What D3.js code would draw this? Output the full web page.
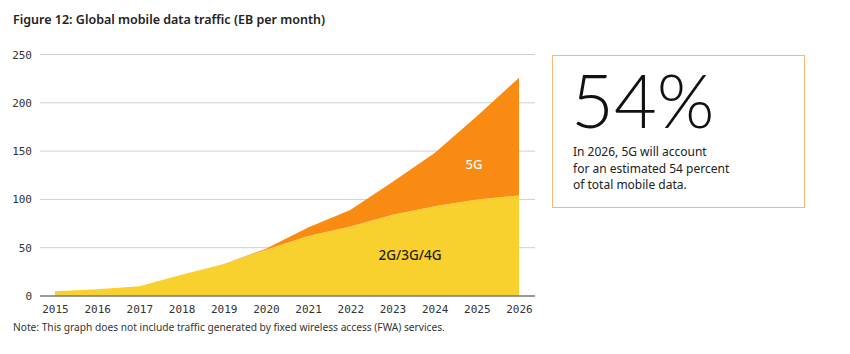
<!DOCTYPE html>
<html>
<head>
<meta charset="utf-8">
<script src="https://cdn.jsdelivr.net/npm/d3@7"></script>
<style>
  body { margin: 0; background: #fff; font-family: 'Noto Sans', Lato, sans-serif; }
  svg { display: block; }
</style>
</head>
<body>
<div id="chart"></div>
<script>
const years = [2015, 2016, 2017, 2018, 2019, 2020, 2021, 2022, 2023, 2024, 2025, 2026];
const legacy = [5, 7, 10, 22, 33, 48, 62, 72, 84, 93, 100, 104];   // 2G/3G/4G
const fiveG  = [0, 0, 0, 0, 0, 1, 9, 17, 34, 55, 86, 122];         // 5G
const yTicks = [0, 50, 100, 150, 200, 250];

const width = 850, height = 354;

const svg = d3.select('#chart').append('svg')
  .attr('width', width)
  .attr('height', height);

svg.append('text')
  .attr('x', 13).attr('y', 24)
  .style('font-size', '12.5px')
  .style('font-weight', 600)
  .style('fill', '#222')
  .text('Figure 12: Global mobile data traffic (EB per month)');

const x = d3.scalePoint()
  .domain(years)
  .range([55, 519]);

const y = d3.scaleLinear()
  .domain([0, 250])
  .range([296, 54.5]);

// grid
svg.append('g')
  .selectAll('line')
  .data(yTicks.filter(d => d > 0))
  .enter().append('line')
  .attr('x1', 40).attr('x2', 535)
  .attr('y1', d => y(d)).attr('y2', d => y(d))
  .attr('stroke', '#cfcfcf')
  .attr('stroke-width', 1);

const stackData = years.map((yr, i) => ({ year: yr, legacy: legacy[i], fiveG: fiveG[i] }));
const stack = d3.stack().keys(['legacy', 'fiveG'])(stackData);
const colors = { legacy: '#f9d12e', fiveG: '#f98b12' };

const area = d3.area()
  .x(d => x(d.data.year))
  .y0(d => y(d[0]))
  .y1(d => y(d[1]));

svg.append('g')
  .selectAll('path')
  .data(stack)
  .enter().append('path')
  .attr('fill', d => colors[d.key])
  .attr('d', area);

// y axis labels
const yAxis = svg.append('g')
  .attr('transform', 'translate(32,0)')
  .call(d3.axisLeft(y).tickValues(yTicks).tickSize(0).tickPadding(0));
yAxis.select('.domain').remove();
yAxis.selectAll('text')
  .style('font-family', "'DejaVu Sans Mono', monospace")
  .style('font-size', '11px')
  .style('fill', '#333');

// baseline
svg.append('line')
  .attr('x1', 40).attr('x2', 535)
  .attr('y1', y(0)).attr('y2', y(0))
  .attr('stroke', '#7a7a72')
  .attr('stroke-width', 1.5);

const xAxis = svg.append('g')
  .attr('transform', `translate(0,${y(0)})`)
  .call(d3.axisBottom(x).tickSize(0).tickPadding(9));
xAxis.select('.domain').remove();
xAxis.selectAll('text')
  .style('font-family', "'DejaVu Sans Mono', monospace")
  .style('font-size', '11px')
  .style('fill', '#333');

// series labels
svg.append('text')
  .attr('x', 474).attr('y', 169)
  .attr('text-anchor', 'middle')
  .style('font-size', '13px')
  .style('font-weight', 500)
  .style('fill', '#fff')
  .text('5G');

svg.append('text')
  .attr('x', 410).attr('y', 260)
  .attr('text-anchor', 'middle')
  .style('font-size', '13.5px')
  .style('font-weight', 500)
  .style('fill', '#2a2208')
  .text('2G/3G/4G');

svg.append('text')
  .attr('x', 13).attr('y', 331)
  .style('font-size', '10.2px')
  .style('fill', '#333')
  .text('Note: This graph does not include traffic generated by fixed wireless access (FWA) services.');

// callout box
svg.append('rect')
  .attr('x', 552.5).attr('y', 55.5)
  .attr('width', 252).attr('height', 152)
  .attr('fill', 'none')
  .attr('stroke', '#f6b872')
  .attr('stroke-width', 1);

svg.append('text')
  .attr('x', 571).attr('y', 128)
  .style('font-family', 'Lato, sans-serif')
  .style('font-weight', 300)
  .style('font-size', '74px')
  .style('fill', '#111')
  .text('54%');

const lines = ['In 2026, 5G will account', 'for an estimated 54 percent', 'of total mobile data.'];
svg.append('g')
  .selectAll('text')
  .data(lines)
  .enter().append('text')
  .attr('x', 573)
  .attr('y', (d, i) => 156 + i * 16.5)
  .style('font-size', '12px')
  .style('fill', '#222')
  .text(d => d);
</script>
</body>
</html>
